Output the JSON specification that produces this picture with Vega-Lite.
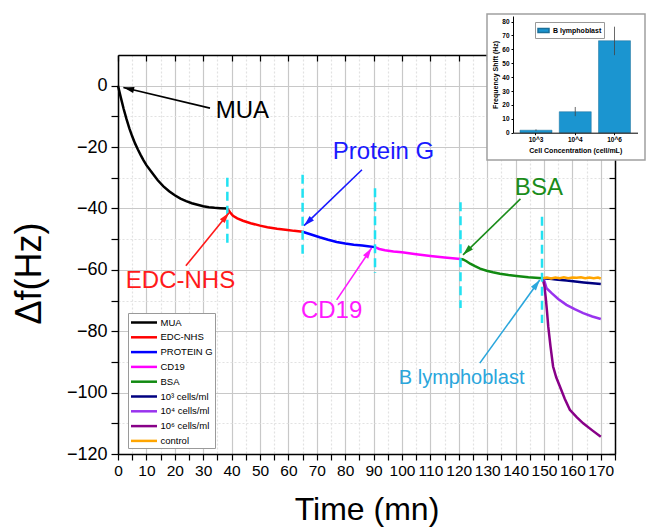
{
  "$schema": "https://vega.github.io/schema/vega-lite/v6.json",
  "width": 497,
  "height": 399,
  "autosize": {"type": "none"},
  "padding": {"left": 118, "top": 55, "right": 32, "bottom": 76},
  "config": {
    "font": "Liberation Sans",
    "view": {"stroke": null},
    "axis": {"domainColor": "#000", "tickColor": "#000", "labelColor": "#000", "titleColor": "#000", "titleFontWeight": "normal", "labelOverlap": false}
  },
  "datasets": {
    "series": [
      {"series": "MUA", "t": 0, "v": 0}, {"series": "MUA", "t": 1, "v": -3.9}, {"series": "MUA", "t": 2, "v": -7.6}, {"series": "MUA", "t": 3, "v": -10.9}, {"series": "MUA", "t": 4, "v": -13.9}, {"series": "MUA", "t": 5, "v": -16.5}, {"series": "MUA", "t": 6, "v": -18.8}, {"series": "MUA", "t": 7, "v": -20.8}, {"series": "MUA", "t": 8, "v": -22.6}, {"series": "MUA", "t": 9, "v": -24.3}, {"series": "MUA", "t": 10, "v": -25.9}, {"series": "MUA", "t": 12, "v": -28.4}, {"series": "MUA", "t": 14, "v": -30.8}, {"series": "MUA", "t": 16, "v": -32.8}, {"series": "MUA", "t": 18, "v": -34.4}, {"series": "MUA", "t": 20, "v": -35.7}, {"series": "MUA", "t": 22, "v": -36.8}, {"series": "MUA", "t": 24, "v": -37.6}, {"series": "MUA", "t": 26, "v": -38.3}, {"series": "MUA", "t": 28, "v": -38.8}, {"series": "MUA", "t": 30, "v": -39.3}, {"series": "MUA", "t": 32, "v": -39.6}, {"series": "MUA", "t": 34, "v": -39.8}, {"series": "MUA", "t": 36, "v": -39.9}, {"series": "MUA", "t": 38.5, "v": -40},
      {"series": "EDC-NHS", "t": 38.5, "v": -40}, {"series": "EDC-NHS", "t": 39.5, "v": -41.3}, {"series": "EDC-NHS", "t": 40.5, "v": -42.4}, {"series": "EDC-NHS", "t": 42, "v": -43.2}, {"series": "EDC-NHS", "t": 44, "v": -44}, {"series": "EDC-NHS", "t": 46.7, "v": -44.8}, {"series": "EDC-NHS", "t": 50, "v": -45.6}, {"series": "EDC-NHS", "t": 52.6, "v": -46.1}, {"series": "EDC-NHS", "t": 56, "v": -46.6}, {"series": "EDC-NHS", "t": 59.7, "v": -47}, {"series": "EDC-NHS", "t": 62, "v": -47.3}, {"series": "EDC-NHS", "t": 65, "v": -47.6},
      {"series": "PROTEIN G", "t": 65, "v": -47.6}, {"series": "PROTEIN G", "t": 68, "v": -48.5}, {"series": "PROTEIN G", "t": 71, "v": -49.4}, {"series": "PROTEIN G", "t": 74, "v": -50.2}, {"series": "PROTEIN G", "t": 77, "v": -50.9}, {"series": "PROTEIN G", "t": 80, "v": -51.4}, {"series": "PROTEIN G", "t": 83, "v": -51.8}, {"series": "PROTEIN G", "t": 86, "v": -52.1}, {"series": "PROTEIN G", "t": 88, "v": -52.3}, {"series": "PROTEIN G", "t": 90.5, "v": -52.6},
      {"series": "CD19", "t": 90.5, "v": -52.6}, {"series": "CD19", "t": 92, "v": -53.2}, {"series": "CD19", "t": 94, "v": -53.6}, {"series": "CD19", "t": 97, "v": -54}, {"series": "CD19", "t": 100, "v": -54.3}, {"series": "CD19", "t": 105, "v": -54.9}, {"series": "CD19", "t": 110, "v": -55.5}, {"series": "CD19", "t": 115, "v": -56}, {"series": "CD19", "t": 120.6, "v": -56.5},
      {"series": "BSA", "t": 120.6, "v": -56.5}, {"series": "BSA", "t": 121.5, "v": -56.6}, {"series": "BSA", "t": 122.7, "v": -57.2}, {"series": "BSA", "t": 124, "v": -58}, {"series": "BSA", "t": 125.7, "v": -58.8}, {"series": "BSA", "t": 127.5, "v": -59.6}, {"series": "BSA", "t": 129.8, "v": -60.3}, {"series": "BSA", "t": 132, "v": -60.8}, {"series": "BSA", "t": 134.5, "v": -61.3}, {"series": "BSA", "t": 137.5, "v": -61.7}, {"series": "BSA", "t": 140.3, "v": -62}, {"series": "BSA", "t": 144.5, "v": -62.4}, {"series": "BSA", "t": 149.5, "v": -62.7},
      {"series": "10³ cells/ml", "t": 149.5, "v": -62.7}, {"series": "10³ cells/ml", "t": 152, "v": -62.9}, {"series": "10³ cells/ml", "t": 155, "v": -63.2}, {"series": "10³ cells/ml", "t": 158, "v": -63.5}, {"series": "10³ cells/ml", "t": 161, "v": -63.8}, {"series": "10³ cells/ml", "t": 164, "v": -64.1}, {"series": "10³ cells/ml", "t": 167, "v": -64.35}, {"series": "10³ cells/ml", "t": 170, "v": -64.6},
      {"series": "10⁴ cells/ml", "t": 149.5, "v": -62.7}, {"series": "10⁴ cells/ml", "t": 150.2, "v": -63.8}, {"series": "10⁴ cells/ml", "t": 150.9, "v": -66}, {"series": "10⁴ cells/ml", "t": 152.7, "v": -67.6}, {"series": "10⁴ cells/ml", "t": 155, "v": -69.5}, {"series": "10⁴ cells/ml", "t": 157.9, "v": -71.4}, {"series": "10⁴ cells/ml", "t": 160.8, "v": -72.8}, {"series": "10⁴ cells/ml", "t": 163.8, "v": -74.1}, {"series": "10⁴ cells/ml", "t": 167, "v": -75.2}, {"series": "10⁴ cells/ml", "t": 170, "v": -76},
      {"series": "10⁶ cells/ml", "t": 149.5, "v": -62.7}, {"series": "10⁶ cells/ml", "t": 150.1, "v": -65}, {"series": "10⁶ cells/ml", "t": 150.6, "v": -69}, {"series": "10⁶ cells/ml", "t": 151.1, "v": -74}, {"series": "10⁶ cells/ml", "t": 151.5, "v": -78.5}, {"series": "10⁶ cells/ml", "t": 152.3, "v": -85}, {"series": "10⁶ cells/ml", "t": 153.2, "v": -91.5}, {"series": "10⁶ cells/ml", "t": 154.3, "v": -95}, {"series": "10⁶ cells/ml", "t": 155.6, "v": -98}, {"series": "10⁶ cells/ml", "t": 157.3, "v": -102}, {"series": "10⁶ cells/ml", "t": 159.1, "v": -105.6}, {"series": "10⁶ cells/ml", "t": 161.5, "v": -108}, {"series": "10⁶ cells/ml", "t": 163.8, "v": -110}, {"series": "10⁶ cells/ml", "t": 167, "v": -112.3}, {"series": "10⁶ cells/ml", "t": 170, "v": -114.4},
      {"series": "control", "t": 149.5, "v": -62.7}, {"series": "control", "t": 151, "v": -62.5}, {"series": "control", "t": 152.5, "v": -62.8}, {"series": "control", "t": 154, "v": -62.5}, {"series": "control", "t": 155.5, "v": -62.7}, {"series": "control", "t": 157, "v": -62.4}, {"series": "control", "t": 158.5, "v": -62.7}, {"series": "control", "t": 160, "v": -62.5}, {"series": "control", "t": 161.5, "v": -62.6}, {"series": "control", "t": 163, "v": -62.4}, {"series": "control", "t": 164.5, "v": -62.7}, {"series": "control", "t": 166, "v": -62.5}, {"series": "control", "t": 167.5, "v": -62.7}, {"series": "control", "t": 169, "v": -62.5}, {"series": "control", "t": 170, "v": -62.8}
    ],
    "cuts": [
      {"t": 38.5, "v1": -30, "v2": -52.5},
      {"t": 65, "v1": -29, "v2": -55.8},
      {"t": 90.5, "v1": -33.4, "v2": -61},
      {"t": 120.6, "v1": -38, "v2": -72.4},
      {"t": 149.3, "v1": -42.7, "v2": -77.3}
    ],
    "arrows": [
      {"label": "MUA", "t1": 32.4, "v1": -7.3, "t2": 1.9, "v2": -0.6},
      {"label": "EDC-NHS", "t1": 23.9, "v1": -58.7, "t2": 39.1, "v2": -41.4},
      {"label": "Protein G", "t1": 85.9, "v1": -27.4, "t2": 65.5, "v2": -45.6},
      {"label": "CD19", "t1": 77, "v1": -69.8, "t2": 89.3, "v2": -52.9},
      {"label": "BSA", "t1": 141.7, "v1": -36.9, "t2": 121.5, "v2": -55.1},
      {"label": "B lymphoblast", "t1": 127.4, "v1": -90.4, "t2": 148.5, "v2": -63.3}
    ],
    "notes": [
      {"label": "MUA", "t": 43.8, "v": -8.4},
      {"label": "EDC-NHS", "t": 22, "v": -63.5},
      {"label": "Protein G", "t": 93.5, "v": -21.7},
      {"label": "CD19", "t": 75.2, "v": -73.4},
      {"label": "BSA", "t": 148.2, "v": -33.3},
      {"label": "B lymphoblast", "t": 121, "v": -95.2}
    ],
    "cells": [
      {"conc": "10^3", "shift": 1.8, "lo": 1.3, "hi": 2.4},
      {"conc": "10^4", "shift": 15.1, "lo": 11.9, "hi": 18.5},
      {"conc": "10^6", "shift": 66.2, "lo": 55.8, "hi": 76.3}
    ]
  },
  "resolve": {
    "scale": {"x": "independent", "y": "independent", "color": "independent"},
    "axis": {"x": "independent", "y": "independent"},
    "legend": {"color": "independent"}
  },
  "layer": [
    {
      "data": {"values": [{"t": 0, "v": 0}]},
      "mark": {"type": "point", "opacity": 0},
      "encoding": {
        "x": {
          "field": "t", "type": "quantitative",
          "scale": {"domain": [0, 175], "nice": false, "zero": false},
          "axis": {
            "orient": "bottom",
            "values": [0, 5, 10, 15, 20, 25, 30, 35, 40, 45, 50, 55, 60, 65, 70, 75, 80, 85, 90, 95, 100, 105, 110, 115, 120, 125, 130, 135, 140, 145, 150, 155, 160, 165, 170, 175],
            "labelExpr": "datum.value % 10 === 0 && datum.value <= 170 ? datum.label : ''",
            "labelFontSize": 15.5, "labelOverlap": false, "labelPadding": 3, "labelFlush": false,
            "tickSize": 6, "tickWidth": 1.2, "domainWidth": 1.5,
            "grid": true,
            "gridColor": {"condition": {"test": "datum.value % 10 === 0", "value": "#c8c8c8"}, "value": "#e2e2e2"},
            "gridDash": {"condition": {"test": "datum.value % 10 === 0", "value": []}, "value": [2, 2]},
            "gridWidth": 1.2,
            "title": "Time (mn)", "titleFontSize": 32, "titlePadding": 16
          }
        },
        "y": {
          "field": "v", "type": "quantitative",
          "scale": {"domain": [-120, 10], "nice": false, "zero": false},
          "axis": {
            "orient": "left",
            "values": [-120, -110, -100, -90, -80, -70, -60, -50, -40, -30, -20, -10, 0],
            "labelExpr": "datum.value % 20 === 0 ? datum.label : ''",
            "labelFontSize": 18, "labelPadding": 4,
            "tickSize": 7, "tickWidth": 1.2, "domainWidth": 1.5,
            "grid": true,
            "gridColor": {"condition": {"test": "datum.value % 20 === 0", "value": "#c8c8c8"}, "value": "#e2e2e2"},
            "gridDash": {"condition": {"test": "datum.value % 20 === 0", "value": []}, "value": [2, 2]},
            "gridWidth": 1.2,
            "title": "Δf(Hz)", "titleFontSize": 36, "titleX": -70, "titleY": 218
          }
        }
      }
    },
    {
      "data": {"values": [{"t": 0, "v": 0}]},
      "mark": {"type": "point", "opacity": 0},
      "encoding": {
        "x": {
          "field": "t", "type": "quantitative",
          "scale": {"domain": [0, 175], "nice": false, "zero": false},
          "axis": {"orient": "top", "values": [0, 10, 20, 30, 40, 50, 60, 70, 80, 90, 100, 110, 120, 130, 140, 150, 160, 170], "labels": false, "tickSize": -6, "tickWidth": 1.2, "domainWidth": 1.5, "grid": false, "title": null}
        },
        "y": {
          "field": "v", "type": "quantitative",
          "scale": {"domain": [-120, 10], "nice": false, "zero": false},
          "axis": {"orient": "right", "values": [-120, -110, -100, -90, -80, -70, -60, -50, -40, -30, -20, -10, 0], "labels": false, "tickSize": -6, "tickWidth": 1.2, "domainWidth": 1.5, "grid": false, "title": null}
        }
      }
    },
    {
      "layer": [
        {
          "data": {"name": "series"},
          "mark": {"type": "line", "strokeWidth": 2.5},
          "encoding": {
            "x": {"field": "t", "type": "quantitative", "scale": {"domain": [0, 175], "nice": false, "zero": false}, "axis": null},
            "y": {"field": "v", "type": "quantitative", "scale": {"domain": [-120, 10], "nice": false, "zero": false}, "axis": null},
            "color": {
              "field": "series", "type": "nominal",
              "scale": {
                "domain": ["MUA", "EDC-NHS", "PROTEIN G", "CD19", "BSA", "10³ cells/ml", "10⁴ cells/ml", "10⁶ cells/ml", "control"],
                "range": ["#000000", "#ff0000", "#0000ff", "#ff00ff", "#118a11", "#000080", "#9933ee", "#880088", "#ffa500"]
              },
              "legend": {
                "orient": "none", "legendX": 10, "legendY": 258,
                "title": null,
                "symbolType": "M-1,0H3", "symbolSize": 169, "symbolStrokeWidth": 2.5,
                "labelFontSize": 9.5, "labelOffset": 15, "rowPadding": 1.8,
                "padding": 1.5, "strokeColor": "#9a9a9a", "fillColor": "#ffffff", "cornerRadius": 0
              }
            }
          }
        },
        {
          "data": {"name": "cuts"},
          "mark": {"type": "rule", "color": "#22e2f2", "strokeWidth": 2.5, "strokeDash": [9, 5]},
          "encoding": {
            "x": {"field": "t", "type": "quantitative"},
            "y": {"field": "v1", "type": "quantitative"},
            "y2": {"field": "v2"}
          }
        },
        {
          "data": {"name": "arrows"},
          "mark": {"type": "rule", "strokeWidth": 1.6},
          "encoding": {
            "x": {"field": "t1", "type": "quantitative"},
            "y": {"field": "v1", "type": "quantitative"},
            "x2": {"field": "t2"},
            "y2": {"field": "v2"},
            "stroke": {
              "field": "label", "type": "nominal",
              "scale": {"domain": ["MUA", "EDC-NHS", "Protein G", "CD19", "BSA", "B lymphoblast"], "range": ["#000000", "#ff1a1a", "#1a1aff", "#ff1aff", "#1a8c1a", "#2aa6dc"]},
              "legend": null
            }
          }
        },
        {
          "data": {"name": "arrows"},
          "mark": {"type": "point", "shape": "M0,0L0.7,2.4L-0.7,2.4Z", "size": 80, "filled": true, "opacity": 1, "strokeWidth": 0},
          "encoding": {
            "x": {"field": "t2", "type": "quantitative"},
            "y": {"field": "v2", "type": "quantitative"},
            "fill": {
              "field": "label", "type": "nominal",
              "scale": {"domain": ["MUA", "EDC-NHS", "Protein G", "CD19", "BSA", "B lymphoblast"], "range": ["#000000", "#ff1a1a", "#1a1aff", "#ff1aff", "#1a8c1a", "#2aa6dc"]},
              "legend": null
            },
            "angle": {
              "field": "label", "type": "nominal",
              "scale": {"type": "ordinal", "domain": ["MUA", "EDC-NHS", "Protein G", "CD19", "BSA", "B lymphoblast"], "range": [283, 39, 226, 34, 226, 36]},
              "legend": null
            }
          }
        },
        {
          "data": {"name": "notes"},
          "mark": {"type": "text", "align": "center", "baseline": "middle"},
          "encoding": {
            "x": {"field": "t", "type": "quantitative"},
            "y": {"field": "v", "type": "quantitative"},
            "text": {"field": "label"},
            "fill": {"field": "label", "type": "nominal", "legend": null},
            "size": {
              "field": "label", "type": "nominal",
              "scale": {"type": "ordinal", "domain": ["MUA", "EDC-NHS", "Protein G", "CD19", "BSA", "B lymphoblast"], "range": [24, 24, 24, 24, 24, 20]},
              "legend": null
            }
          }
        }
      ]
    },
    {
      "data": {"values": [{"x0": 0, "x1": 1, "y0": 0, "y1": 1}]},
      "mark": {"type": "rect", "fill": "#ffffff", "stroke": "#a0a0a0", "strokeWidth": 1.5},
      "encoding": {
        "x": {"field": "x0", "type": "quantitative", "scale": {"domain": [0, 1], "range": [369, 527]}, "axis": null},
        "x2": {"field": "x1"},
        "y": {"field": "y0", "type": "quantitative", "scale": {"domain": [0, 1], "range": [105, -41]}, "axis": null},
        "y2": {"field": "y1"}
      }
    },
    {
      "data": {"name": "cells"},
      "layer": [
        {
          "mark": {"type": "bar", "stroke": "#1a6f99", "strokeWidth": 0.5},
          "encoding": {
            "x": {
              "field": "conc", "type": "nominal",
              "scale": {"range": [395, 519.5], "paddingInner": 0.185, "paddingOuter": 0.178},
              "axis": {"orient": "bottom", "offset": -321.3, "labelAngle": 0, "labelFontSize": 6.5, "labelFontWeight": "bold", "tickSize": 2, "domainWidth": 1, "labelPadding": 2, "title": "Cell Concentration (cell/mL)", "titleFontSize": 7, "titleFontWeight": "bold", "titlePadding": 3, "zindex": 1, "grid": false}
            },
            "y": {
              "field": "shift", "type": "quantitative",
              "scale": {"domain": [0, 84], "range": [77.7, -39], "nice": false, "zero": false},
              "axis": {"orient": "left", "offset": -395, "values": [0, 10, 20, 30, 40, 50, 60, 70, 80], "labelFontSize": 6.5, "labelFontWeight": "bold", "tickSize": 2, "domainWidth": 1, "labelPadding": 2, "title": "Frequency Shift (Hz)", "titleFontSize": 7, "titleFontWeight": "bold", "titlePadding": 3, "zindex": 1, "grid": false}
            },
            "color": {
              "datum": "B lymphoblast", "type": "nominal",
              "scale": {"range": ["#1b95d0"]},
              "legend": {"orient": "none", "legendX": 417, "legendY": -33, "title": null, "symbolType": "M-1,-0.35H1V0.35H-1Z", "symbolSize": 121, "labelFontSize": 7, "labelFontWeight": "bold", "labelOffset": 3, "padding": 2, "strokeColor": "#999999", "fillColor": "#ffffff"}
            }
          }
        },
        {
          "mark": {"type": "rule", "color": "#444444", "strokeWidth": 0.8},
          "encoding": {
            "x": {"field": "conc", "type": "nominal"},
            "y": {"field": "lo", "type": "quantitative"},
            "y2": {"field": "hi"}
          }
        }
      ]
    }
  ]
}
